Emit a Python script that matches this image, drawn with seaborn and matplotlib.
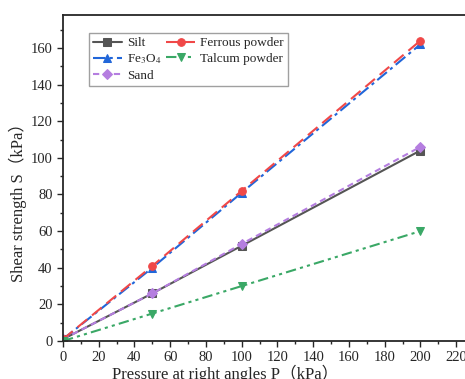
import matplotlib
matplotlib.use("Agg")
import matplotlib.pyplot as plt
import seaborn as sns
import pandas as pd
from matplotlib.ticker import MultipleLocator

pressure = [0, 50, 100, 200]
silt = [1, 26, 52, 104]
fe3o4 = [1, 40, 81, 162]
sand = [1, 26, 53, 106]
ferrous = [1, 41, 82, 164]
talcum = [0, 15, 30, 60]

series_names = ["Silt", "Fe$_3$O$_4$", "Sand", "Ferrous powder", "Talcum powder"]
series_vals = [silt, fe3o4, sand, ferrous, talcum]
colors = ["#555555", "#2166d9", "#b57ee0", "#f04848", "#3aa866"]
markers = ["s", "^", "D", "o", "v"]
dashes = ["-", (0, (6, 2, 1.5, 2)), (0, (3, 2)), (0, (6, 3)), (0, (5, 2, 1.5, 2, 1.5, 2))]

sns.set_style("ticks")
plt.rcParams["font.family"] = ["Liberation Serif", "Noto Sans CJK SC"]
plt.rcParams["mathtext.fontset"] = "stix"

fig = plt.figure(figsize=(4.65, 3.79), dpi=100)
W, H = 465, 379
ax = fig.add_axes([63/W, 38/H, 411/W, 326/H])

for name, vals, c, m, d in zip(series_names, series_vals, colors, markers, dashes):
    df = pd.DataFrame({"P": pressure, "S": vals})
    sns.lineplot(data=df, x="P", y="S", ax=ax, color=c, marker=m, markersize=5.5,
                 markeredgecolor=c, linewidth=1.5, label=name)
    ax.lines[-1].set_linestyle(d)

ax.set_xlim(0, 230)
ax.set_ylim(0, 178)
ax.xaxis.set_major_locator(MultipleLocator(20))
ax.xaxis.set_minor_locator(MultipleLocator(10))
ax.yaxis.set_major_locator(MultipleLocator(20))
ax.yaxis.set_minor_locator(MultipleLocator(10))
ax.tick_params(which="major", direction="out", length=4, width=1, labelsize=10.5)
ax.tick_params(which="minor", direction="out", length=2.5, width=1)
for s in ax.spines.values():
    s.set_linewidth(1.3)
    s.set_visible(True)

ax.set_xlabel("Pressure at right angles P（kPa）", fontsize=12)
ax.set_ylabel("Shear strength S（kPa）", fontsize=12)
ax.xaxis.set_label_coords((225 - 63) / 411, (341 - 365) / 326)
ax.yaxis.set_label_coords((27 - 63) / 411, (341 - 198) / 326)

leg = ax.legend(ncol=2, loc="upper left", bbox_to_anchor=(26/411, (341-33)/326), fontsize=9.5,
                frameon=True, fancybox=False, edgecolor="#888888", handlelength=2.2,
                columnspacing=0.3, handletextpad=0.4, labelspacing=0.25, borderpad=0.3,
                borderaxespad=0)
leg.get_frame().set_linewidth(1)

fig.savefig("out.png", dpi=100)
